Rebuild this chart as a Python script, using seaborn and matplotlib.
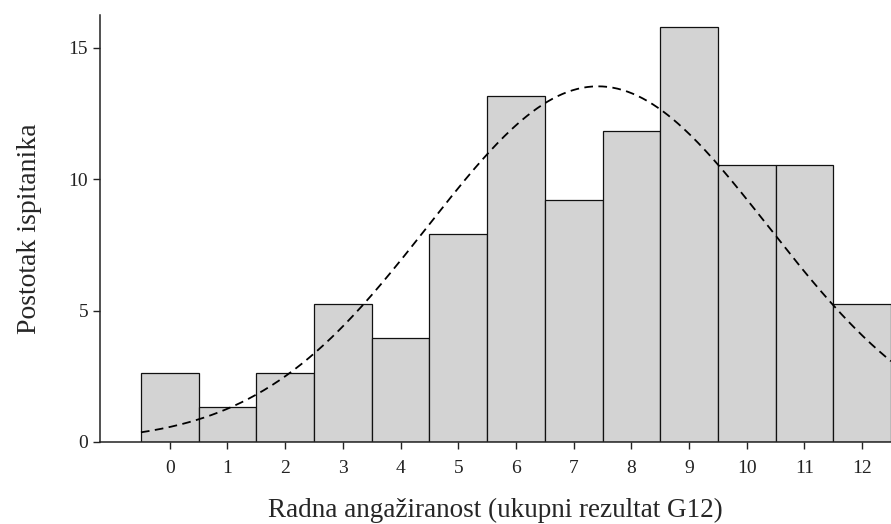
import numpy as np
import pandas as pd
import seaborn as sns
from matplotlib import pyplot as plt


## DADOS

rezultat = [0, 1, 2, 3, 4, 5, 6, 7, 8, 9, 10, 11, 12]
broj_ispitanika = [2, 1, 2, 4, 3, 6, 10, 7, 9, 12, 8, 8, 4]   # ukupno 76
postotak = [100 * b / sum(broj_ispitanika) for b in broj_ispitanika]

df = pd.DataFrame({'rezultat': rezultat, 'postotak': postotak})

# normalna krivulja iz aritmeticke sredine i SD uzorka
n = sum(broj_ispitanika)
mu = sum(r * b for r, b in zip(rezultat, broj_ispitanika)) / n
sd = np.sqrt(sum(b * (r - mu) ** 2 for r, b in zip(rezultat, broj_ispitanika)) / (n - 1))
xs = np.linspace(-0.5, 12.5, 300)
df_krivulja = pd.DataFrame({'x': xs,
                            'y': 100 / (sd * np.sqrt(2 * np.pi)) * np.exp(-(xs - mu) ** 2 / (2 * sd ** 2))})


## GRAF

sns.set_style('ticks')
plt.rcParams['font.family'] = ['Liberation Serif', 'DejaVu Serif']

fig = plt.figure(figsize=(8.91, 5.24), dpi=100)
ax = fig.add_axes([0.1122, 0.1565, 0.8878, 0.815])

sns.histplot(data=df, x='rezultat', weights='postotak', discrete=True,
             color='#d3d3d3', alpha=1, edgecolor='#111111', linewidth=0.9, ax=ax)
sns.lineplot(data=df_krivulja, x='x', y='y', color='black', linewidth=1.3,
             linestyle=(0, (4.8, 3)), ax=ax)

ax.set_xlim(-1.21, 12.5)
ax.set_ylim(0, 16.24)
ax.set_xticks(rezultat)
ax.set_yticks([0, 5, 10, 15])
ax.tick_params(direction='out', length=5, width=1, labelsize=14, colors='#222222')
ax.tick_params(axis='x', pad=8)
for s in ['top', 'right']:
    ax.spines[s].set_visible(False)
for s in ['left', 'bottom']:
    ax.spines[s].set_linewidth(1.1)
    ax.spines[s].set_color('#222222')

ax.set_xlabel('Radna angažiranost (ukupni rezultat G12)', fontsize=19.5, labelpad=15)
ax.set_ylabel('Postotak ispitanika', fontsize=20, labelpad=19)

plt.savefig('out.png', dpi=100)
